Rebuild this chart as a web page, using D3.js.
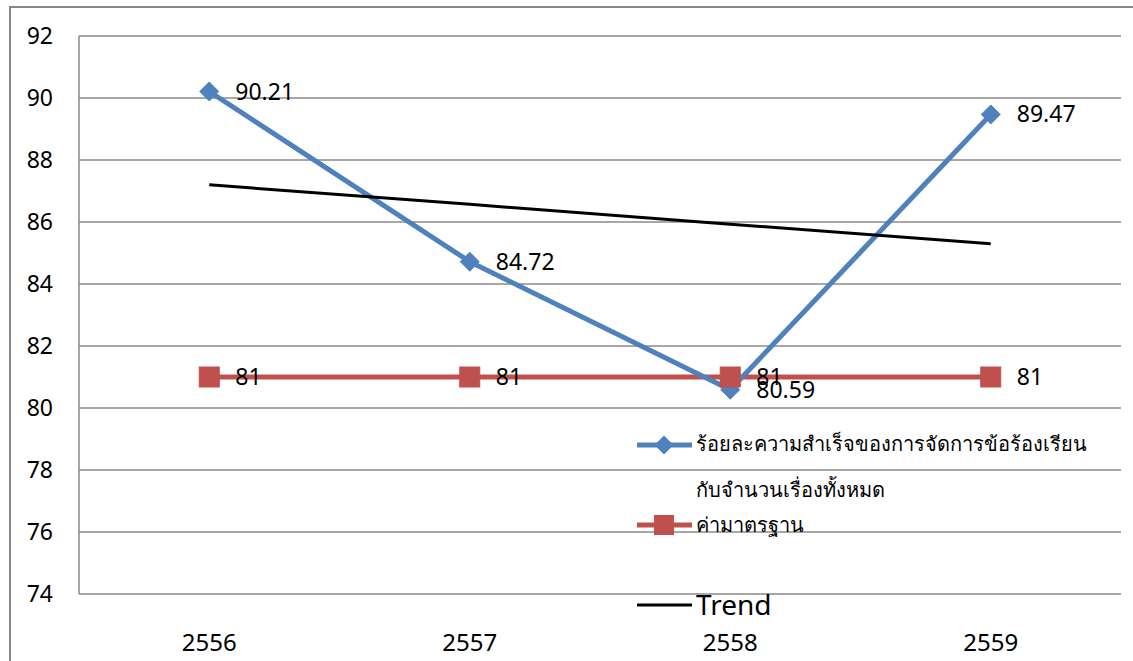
<!DOCTYPE html>
<html>
<head>
<meta charset="utf-8">
<script src="https://cdn.jsdelivr.net/npm/d3@7/dist/d3.min.js"></script>
<style>
  html, body { margin: 0; padding: 0; background: #fff; }
  svg { display: block; }
  text { font-family: "Noto Sans", "Open Sans", sans-serif; fill: #000; }
</style>
</head>
<body>
<svg id="chart" width="1133" height="661"></svg>
<script>
// Chart data
const years = ["2556", "2557", "2558", "2559"];
const successRate = [90.21, 84.72, 80.59, 89.47];
const standardValue = [81, 81, 81, 81];
const trendValues = [87.20, 86.57, 85.93, 85.30];
const yTicks = [74, 76, 78, 80, 82, 84, 86, 88, 90, 92];

const seriesNames = [
  ["ร้อยละความสำเร็จของการจัดการข้อร้องเรียน", "กับจำนวนเรื่องทั้งหมด"],
  ["ค่ามาตรฐาน"],
  ["Trend"]
];

const blue = "#4F81BD", red = "#C0504D";

const svg = d3.select("#chart");
const plot = { left: 79, right: 1121, top: 36, bottom: 594 };

const x = d3.scaleBand().domain(years).range([plot.left, plot.right]);
const y = d3.scaleLinear().domain([74, 92]).range([plot.bottom, plot.top]);
const cx = d => x(d) + x.bandwidth() / 2;

// Outer frame
svg.append("path")
  .attr("d", "M10,670 L10,7 L1140,7")
  .attr("fill", "none").attr("stroke", "#888").attr("stroke-width", 2);

// Horizontal gridlines
svg.append("g").selectAll("line").data(yTicks).join("line")
  .attr("x1", plot.left).attr("x2", plot.right)
  .attr("y1", d => y(d)).attr("y2", d => y(d))
  .attr("stroke", "#8a8a8a").attr("stroke-width", 1.5);

// Vertical axis line
svg.append("line")
  .attr("x1", plot.left).attr("x2", plot.left)
  .attr("y1", plot.top).attr("y2", plot.bottom)
  .attr("stroke", "#8a8a8a").attr("stroke-width", 1.5);

// Y tick labels
const yAxis = d3.axisLeft(y).tickValues(yTicks).tickSize(0).tickPadding(26);
const gy = svg.append("g").attr("transform", `translate(${plot.left},0)`).call(yAxis);
gy.select(".domain").remove();
gy.selectAll("text").attr("font-size", 23).attr("font-family", "Noto Sans, sans-serif").attr("fill", "#000");

// X tick labels
const xAxis = d3.axisBottom(x).tickSize(0).tickPadding(40);
const gx = svg.append("g").attr("transform", `translate(0,${plot.bottom})`).call(xAxis);
gx.select(".domain").remove();
gx.selectAll("text").attr("font-size", 24).attr("font-family", "Liberation Sans, Arial, sans-serif").attr("fill", "#111");

const line = d3.line().x((d, i) => cx(years[i])).y(d => y(d));

// Standard line (red)
svg.append("path").datum(standardValue).attr("d", line)
  .attr("fill", "none").attr("stroke", red).attr("stroke-width", 5);

// Success rate line (blue)
svg.append("path").datum(successRate).attr("d", line)
  .attr("fill", "none").attr("stroke", blue).attr("stroke-width", 5).attr("stroke-linejoin", "round");

// Trend line (black)
svg.append("path").datum(trendValues).attr("d", line)
  .attr("fill", "none").attr("stroke", "#000").attr("stroke-width", 3);

// Diamond markers
const diamond = s => `M0,${-s} L${s},0 L0,${s} L${-s},0 Z`;
svg.append("g").selectAll("path").data(successRate).join("path")
  .attr("d", diamond(9.5))
  .attr("transform", (d, i) => `translate(${cx(years[i])},${y(d)})`)
  .attr("fill", blue).attr("stroke", blue).attr("stroke-width", 1);

// Square markers
svg.append("g").selectAll("rect").data(standardValue).join("rect")
  .attr("x", (d, i) => cx(years[i]) - 10).attr("y", d => y(d) - 10)
  .attr("width", 20).attr("height", 20)
  .attr("fill", red).attr("stroke", red).attr("stroke-width", 1);

// Data labels
const labelFont = 23;
svg.append("g").selectAll("text").data(standardValue).join("text")
  .attr("x", (d, i) => cx(years[i]) + 26).attr("y", d => y(d))
  .attr("dy", "0.35em").attr("font-size", labelFont).text(d => d);
svg.append("g").selectAll("text").data(successRate).join("text")
  .attr("x", (d, i) => cx(years[i]) + 26).attr("y", d => y(d))
  .attr("dy", "0.35em").attr("font-size", labelFont).text(d => d.toFixed(2));

// Legend
const lg = svg.append("g");
const lx0 = 637, lx1 = 692, tx = 696;
// series 1
lg.append("line").attr("x1", lx0).attr("x2", lx1).attr("y1", 445).attr("y2", 445)
  .attr("stroke", blue).attr("stroke-width", 5);
lg.append("path").attr("d", diamond(9.5)).attr("transform", `translate(664,445)`).attr("fill", blue);
lg.append("text").attr("x", tx).attr("y", 444).attr("dy", "0.35em").attr("font-size", 20).text(seriesNames[0][0]);
lg.append("text").attr("x", tx).attr("y", 490).attr("dy", "0.35em").attr("font-size", 20).text(seriesNames[0][1]);
// series 2
lg.append("line").attr("x1", lx0).attr("x2", lx1).attr("y1", 525).attr("y2", 525)
  .attr("stroke", red).attr("stroke-width", 5);
lg.append("rect").attr("x", 654).attr("y", 515).attr("width", 20).attr("height", 20).attr("fill", red);
lg.append("text").attr("x", tx).attr("y", 525).attr("dy", "0.35em").attr("font-size", 20).text(seriesNames[1][0]);
// trend
lg.append("line").attr("x1", lx0).attr("x2", lx1).attr("y1", 605).attr("y2", 605)
  .attr("stroke", "#000").attr("stroke-width", 3);
lg.append("text").attr("x", tx).attr("y", 605).attr("dy", "0.35em").attr("font-size", 28).text(seriesNames[2][0]);
</script>
</body>
</html>
